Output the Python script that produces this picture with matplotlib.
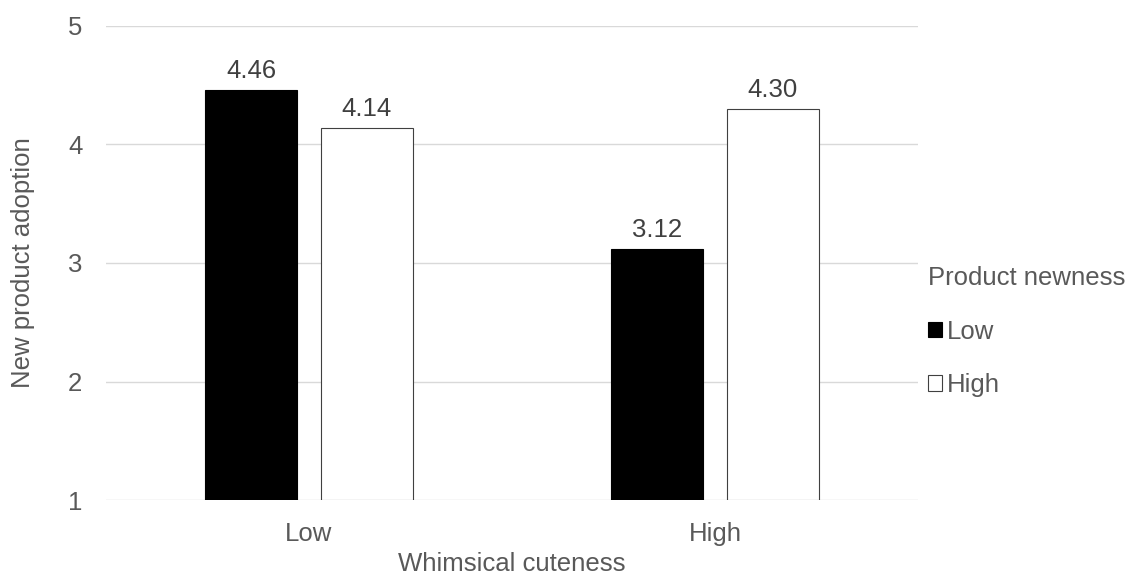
import matplotlib
matplotlib.use("Agg")
import matplotlib.pyplot as plt
import numpy as np

plt.rcParams['font.family'] = ['Liberation Sans', 'DejaVu Sans']

categories = ["Low", "High"]
series_names = ["Low", "High"]
low_newness = [4.46, 3.12]
high_newness = [4.14, 4.30]
y_ticks = [1, 2, 3, 4, 5]

FS = 18.5
GREY = "#595959"

fig = plt.figure(figsize=(11.34, 5.77), dpi=100)
ax = fig.add_axes([0.0935, 0.1334, 0.716, 0.8216])

x = np.arange(len(categories))
width = 0.227
offset = 0.142

ax.bar(x - offset, np.array(low_newness) - 1, width, bottom=1,
       color="black", edgecolor="black", linewidth=0.8, label=series_names[0], zorder=3)
ax.bar(x + offset, np.array(high_newness) - 1, width, bottom=1,
       color="white", edgecolor="#404040", linewidth=0.8, label=series_names[1], zorder=3)

for xs, vals in ((x - offset, low_newness), (x + offset, high_newness)):
    for xi, v in zip(xs, vals):
        ax.text(xi, v + 0.055, f"{v:.2f}", ha="center", va="bottom",
                fontsize=FS, color="#404040")

ax.set_xlim(-0.5, 1.5)
ax.set_ylim(1, 5)
ax.set_yticks(y_ticks)
ax.set_xticks(x)
ax.set_xticklabels(categories)
ax.tick_params(axis="both", length=0, labelsize=FS, colors=GREY)
ax.tick_params(axis="y", pad=17)
ax.tick_params(axis="x", pad=16)
ax.grid(axis="y", color="#d9d9d9", linewidth=1, zorder=0)
for s in ax.spines.values():
    s.set_visible(False)

ax.set_ylabel("New product adoption", fontsize=FS, color=GREY, labelpad=24)
ax.set_xlabel("Whimsical cuteness", fontsize=FS, color=GREY, labelpad=4)

leg = ax.legend(title="Product newness", loc="center left", bbox_to_anchor=(0.99, 0.355),
                frameon=False, fontsize=FS, title_fontsize=FS,
                handlelength=0.55, handleheight=0.55, handletextpad=0.2,
                labelspacing=1.15, alignment="left", borderaxespad=0.3)
leg.get_title().set_color(GREY)
for t in leg.get_texts():
    t.set_color(GREY)

fig.savefig("out.png", dpi=100)
